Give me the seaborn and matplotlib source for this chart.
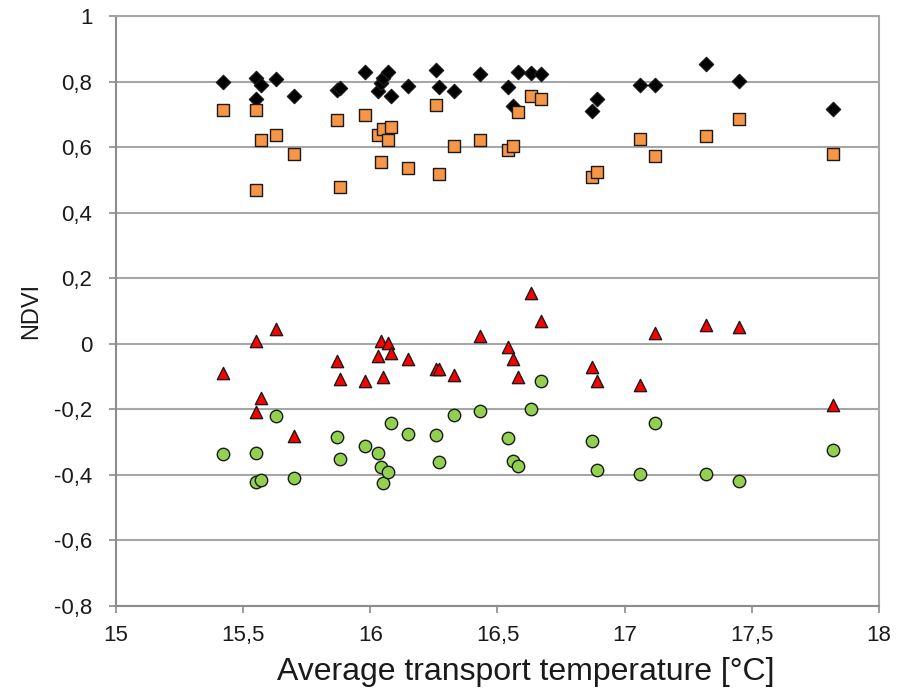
import matplotlib
matplotlib.use("Agg")
import matplotlib.pyplot as plt
import seaborn as sns
import pandas as pd

# Average transport temperature [°C] for each sample
temperature = [15.42, 15.55, 15.55, 15.57, 15.63, 15.70, 15.87, 15.88, 15.98, 16.03,
               16.04, 16.05, 16.07, 16.08, 16.15, 16.26, 16.27, 16.33, 16.43, 16.54,
               16.56, 16.58, 16.63, 16.67, 16.87, 16.89, 17.06, 17.12, 17.32, 17.45,
               17.82]

# NDVI values of the four groups, in the same order as the temperatures
ndvi_diamond = [0.800, 0.811, 0.747, 0.788, 0.809, 0.755, 0.775, 0.780, 0.830, 0.770,
                0.795, 0.810, 0.830, 0.755, 0.786, 0.835, 0.784, 0.770, 0.823, 0.784,
                0.725, 0.830, 0.827, 0.823, 0.711, 0.747, 0.789, 0.789, 0.855, 0.803,
                0.717]
ndvi_square = [0.714, 0.714, 0.470, 0.621, 0.638, 0.580, 0.682, 0.478, 0.699, 0.638,
               0.554, 0.656, 0.623, 0.662, 0.536, 0.727, 0.519, 0.602, 0.623, 0.592,
               0.602, 0.707, 0.757, 0.747, 0.508, 0.523, 0.625, 0.572, 0.635, 0.686,
               0.579]
ndvi_triangle = [-0.088, 0.007, -0.207, -0.166, 0.046, -0.280, -0.052, -0.107, -0.113, -0.036,
                 0.009, -0.102, 0.002, -0.028, -0.046, -0.076, -0.078, -0.095, 0.025, -0.011,
                 -0.046, -0.100, 0.155, 0.068, -0.071, -0.113, -0.125, 0.033, 0.058, 0.051,
                 -0.186]
ndvi_circle = [-0.336, -0.334, -0.422, -0.415, -0.219, -0.410, -0.283, -0.352, -0.313, -0.332,
               -0.375, -0.425, -0.390, -0.242, -0.276, -0.278, -0.361, -0.217, -0.205, -0.286,
               -0.357, -0.372, -0.200, -0.115, -0.296, -0.385, -0.398, -0.242, -0.397, -0.420,
               -0.324]

x_ticks = [15, 15.5, 16, 16.5, 17, 17.5, 18]
x_tick_labels = ["15", "15,5", "16", "16,5", "17", "17,5", "18"]
y_ticks = [-0.8, -0.6, -0.4, -0.2, 0, 0.2, 0.4, 0.6, 0.8, 1]
y_tick_labels = ["-0,8", "-0,6", "-0,4", "-0,2", "0", "0,2", "0,4", "0,6", "0,8", "1"]

sns.set_theme(style="white")
plt.rcParams["font.family"] = ["Liberation Sans", "DejaVu Sans"]

fig = plt.figure(figsize=(9.03, 6.92), dpi=100)
ax = fig.add_axes([116 / 903, 1 - 606 / 692, 763 / 903, 590 / 692])

grid_color = "#a6a6a6"
axis_color = "#8c8c8c"

series = [
    (ndvi_diamond, "D", "#000000", 52),
    (ndvi_square, "s", "#f79646", 70),
    (ndvi_triangle, "^", "#ff0000", 78),
    (ndvi_circle, "o", "#92d050", 80),
]
for values, marker, color, size in series:
    df = pd.DataFrame({"temperature": temperature, "ndvi": values})
    sns.scatterplot(data=df, x="temperature", y="ndvi", ax=ax, marker=marker,
                    color=color, s=size, edgecolor="#1a1a1a", linewidth=1.0,
                    legend=False, zorder=3)

ax.set_xlim(15, 18)
ax.set_ylim(-0.8, 1)
ax.set_xticks(x_ticks)
ax.set_xticklabels(x_tick_labels)
ax.set_yticks(y_ticks)
ax.set_yticklabels(y_tick_labels)

ax.yaxis.grid(True, color=grid_color, linewidth=1.5)
ax.xaxis.grid(False)
ax.set_axisbelow(True)

for side in ["left", "bottom"]:
    ax.spines[side].set_color(axis_color)
    ax.spines[side].set_linewidth(1.5)
ax.spines["right"].set_color(grid_color)
ax.spines["right"].set_linewidth(1.5)
ax.spines["top"].set_color(grid_color)
ax.spines["top"].set_linewidth(1.5)

ax.tick_params(axis="both", which="major", direction="out", length=5,
               width=1.2, color=axis_color, labelsize=16, labelcolor="#1a1a1a",
               left=True, bottom=True)
ax.tick_params(axis="y", pad=12)
ax.tick_params(axis="x", pad=9)

ax.set_xlabel("Average transport temperature [°C]", fontsize=23, color="#1a1a1a")
ax.set_ylabel("NDVI", fontsize=17, color="#1a1a1a")
ax.xaxis.set_label_coords(0.537, -0.086)
ax.yaxis.set_label_coords(-0.097, 0.5)

fig.savefig("out.png", dpi=100)
